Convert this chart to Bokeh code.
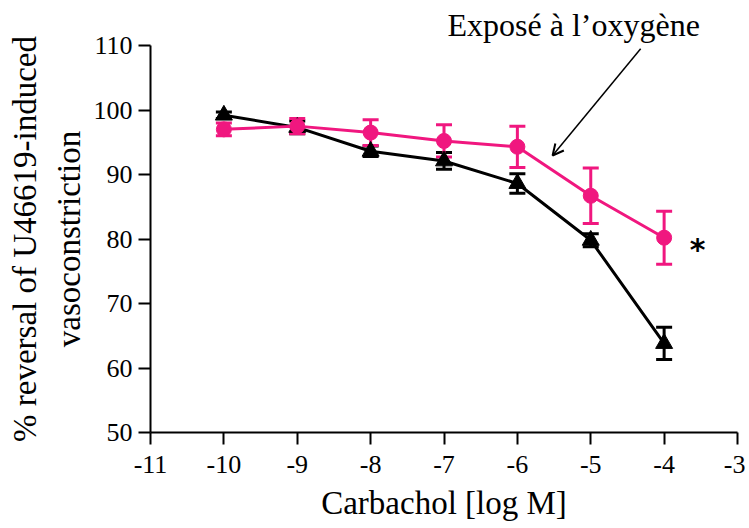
from bokeh.plotting import figure
from bokeh.models import (ColumnDataSource, Whisker, TeeHead, FixedTicker, Label,
                          Arrow, OpenHead, Range1d, Title)
from bokeh.embed import file_html
from bokeh.resources import INLINE

# Data
conc = [-10, -9, -8, -7, -6, -5, -4]
control = [99.2, 97.3, 93.6, 92.1, 88.6, 79.8, 63.8]
control_err = [0.5, 1.0, 0.8, 1.3, 1.5, 1.0, 2.5]
oxygen = [97.0, 97.5, 96.5, 95.2, 94.3, 86.7, 80.2]
oxygen_err = [1.0, 1.2, 2.0, 2.5, 3.2, 4.3, 4.1]
x_ticks = [-11, -10, -9, -8, -7, -6, -5, -4, -3]
y_ticks = [50, 60, 70, 80, 90, 100, 110]

PINK = "#F0177F"
FONT = "Liberation Serif"

p = figure(width=745, height=528, output_backend="svg", toolbar_location=None,
           x_range=Range1d(-11, -3), y_range=Range1d(50, 110),
           min_border_left=150, min_border_right=8, min_border_top=45, min_border_bottom=96)
p.outline_line_color = None
p.xgrid.visible = False
p.ygrid.visible = False

for ax in (p.xaxis, p.yaxis):
    ax.axis_line_width = 2
    ax.major_tick_line_width = 2
    ax.major_tick_out = 12
    ax.major_tick_in = 0
    ax.minor_tick_line_color = None
    ax.major_label_text_font = FONT
    ax.major_label_text_font_size = "26px"
    ax.major_label_text_color = "black"
    ax.axis_label_text_font = FONT
    ax.axis_label_text_font_size = "33px"
    ax.axis_label_text_font_style = "normal"
    ax.axis_label_text_color = "black"
    ax.axis_line_color = "black"
    ax.major_tick_line_color = "black"

p.xaxis.ticker = FixedTicker(ticks=x_ticks)
p.yaxis.ticker = FixedTicker(ticks=y_ticks)
p.xaxis.major_label_overrides = {t: str(t) for t in x_ticks}
p.xaxis.axis_label = "Carbachol [log M]"
p.yaxis.axis_label = "% reversal of U46619-induced\nvasoconstriction"
p.yaxis.axis_label_standoff = 4
p.yaxis.major_label_standoff = 6
p.xaxis.major_label_standoff = 11
p.xaxis.axis_label_standoff = 9

p.add_layout(Title(text="Exposé à l’oxygène", align="left", offset=297,
                   text_font=FONT, text_font_size="32px", text_font_style="normal",
                   text_color="black", standoff=5), "above")

def series(y, err, color, marker, size):
    src = ColumnDataSource(dict(x=conc, y=y,
                                up=[a + b for a, b in zip(y, err)],
                                lo=[a - b for a, b in zip(y, err)]))
    w = Whisker(base="x", upper="up", lower="lo", source=src,
                line_color=color, line_width=3,
                upper_head=TeeHead(size=16, line_width=3, line_color=color),
                lower_head=TeeHead(size=16, line_width=3, line_color=color))
    p.add_layout(w)
    p.line("x", "y", source=src, line_color=color, line_width=3)
    p.scatter("x", "y", source=src, marker=marker, size=size,
              fill_color=color, line_color=color)

series(control, control_err, "black", "triangle", 17)
series(oxygen, oxygen_err, PINK, "circle", 15)

p.add_layout(Arrow(x_start=-4.32, y_start=109.5, x_end=-5.52, y_end=92.95,
                   line_width=1.5, line_color="black",
                   end=OpenHead(size=11, line_width=2, line_color="black")))
p.add_layout(Label(x=-3.545, y=78.3, text="*", text_font="DejaVu Sans",
                   text_font_size="30px", text_font_style="bold", text_align="center",
                   text_baseline="middle", text_color="black"))

open("out.html", "w").write(file_html(p, INLINE))
